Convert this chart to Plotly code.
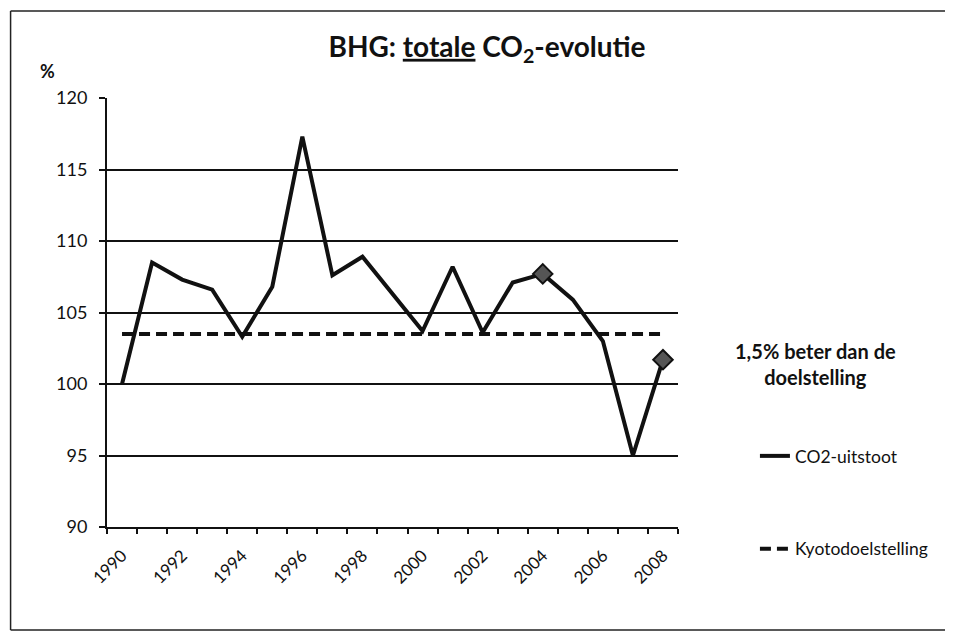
import plotly.graph_objects as go

years = list(range(1990, 2009))
co2_uitstoot = [100.0, 108.5, 107.3, 106.6, 103.3, 106.8, 117.3, 107.6, 108.9, 106.3,
                103.7, 108.2, 103.6, 107.1, 107.7, 105.9, 103.0, 95.0, 101.7]
kyoto_doel = [103.5] * len(years)
marked_years = [2004, 2008]
x_tick_labels = [str(y) for y in range(1990, 2009, 2)]
y_ticks = [90, 95, 100, 105, 110, 115, 120]

FONT = "Lato"
INK = "#111111"

OFF = 8  # page body offset
W, H = 953, 635
L, R, T, B = 106.5, 678.0, 98.0, 527.0  # page pixel positions of the plot area

def px_x(px):
    return (px - L) / (R - L)

def px_y(py):
    return (B - py) / (B - T)

fig = go.Figure()

fig.add_trace(go.Scatter(
    x=years, y=co2_uitstoot, mode="lines", name="CO2-uitstoot",
    line=dict(color=INK, width=4), legendgroup="a",
))
fig.add_trace(go.Scatter(
    x=years, y=kyoto_doel, mode="lines", name="Kyotodoelstelling",
    line=dict(color=INK, width=4, dash="11px,6px"), legendgroup="b",
))
mk_y = [co2_uitstoot[years.index(y)] for y in marked_years]
fig.add_trace(go.Scatter(
    x=marked_years, y=mk_y, mode="markers", showlegend=False,
    marker=dict(symbol="diamond", size=15, color="#555555",
                line=dict(color=INK, width=2)),
))

frame = dict(color="#222222", width=1.5)

fig.update_layout(
    width=W, height=H,
    margin=dict(l=L - OFF, r=W - (R - OFF), t=T - OFF, b=H - (B - OFF)),
    paper_bgcolor="white", plot_bgcolor="white",
    font=dict(family=FONT, color=INK, size=17),
    title=dict(
        text="<b>BHG: <u>totale</u> CO<sub>2</sub>-evolutie</b>",
        x=(487 - OFF) / W, xanchor="center", xref="container",
        y=1 - (47 - OFF) / H, yanchor="middle", yref="container",
        font=dict(size=28, family=FONT, color=INK),
    ),
    showlegend=True,
    legend=dict(
        x=px_x(755), xanchor="left", y=px_y(438), yanchor="top",
        traceorder="grouped", tracegroupgap=67,
        font=dict(size=17.5, family=FONT, color=INK),
        bgcolor="rgba(0,0,0,0)",
    ),
    xaxis=dict(
        range=[1989.5, 2008.5],
        tickmode="array", tickvals=list(range(1990, 2009, 2)), ticktext=x_tick_labels,
        ticks="", tickangle=-45, tickfont=dict(size=17, family=FONT, color=INK),
        showgrid=False, zeroline=False,
        showline=True, linecolor=INK, linewidth=2,
        minor=dict(tick0=1989.5, dtick=1, ticks="outside", ticklen=5,
                   tickwidth=1.5, tickcolor=INK, showgrid=False),
        ticklabelstandoff=10,
    ),
    yaxis=dict(
        range=[90, 120], tickmode="array", tickvals=y_ticks,
        ticks="outside", ticklen=6, tickwidth=1.5, tickcolor=INK,
        tickfont=dict(size=18, family=FONT, color=INK),
        showgrid=True, gridcolor=INK, gridwidth=1.5,
        zeroline=False, showline=True, linecolor=INK, linewidth=2,
        ticklabelstandoff=8,
    ),
    shapes=[
        dict(type="line", xref="paper", yref="paper",
             x0=px_x(10), x1=px_x(1000), y0=px_y(11), y1=px_y(11), line=frame),
        dict(type="line", xref="paper", yref="paper",
             x0=px_x(10), x1=px_x(10), y0=px_y(11), y1=px_y(630), line=frame),
        dict(type="line", xref="paper", yref="paper",
             x0=px_x(10), x1=px_x(1000), y0=px_y(630), y1=px_y(630), line=frame),
    ],
    annotations=[
        dict(text="<b>%</b>", xref="paper", yref="paper", x=px_x(47), y=px_y(71),
             showarrow=False, xanchor="center", yanchor="middle",
             font=dict(size=18, family=FONT, color=INK)),
        dict(text="<b>1,5% beter dan de<br>doelstelling</b>", xref="paper", yref="paper",
             x=px_x(816), y=px_y(364), showarrow=False, xanchor="center", yanchor="middle",
             align="center", font=dict(size=20, family=FONT, color=INK)),
    ],
)

fig.write_html("out.html")
